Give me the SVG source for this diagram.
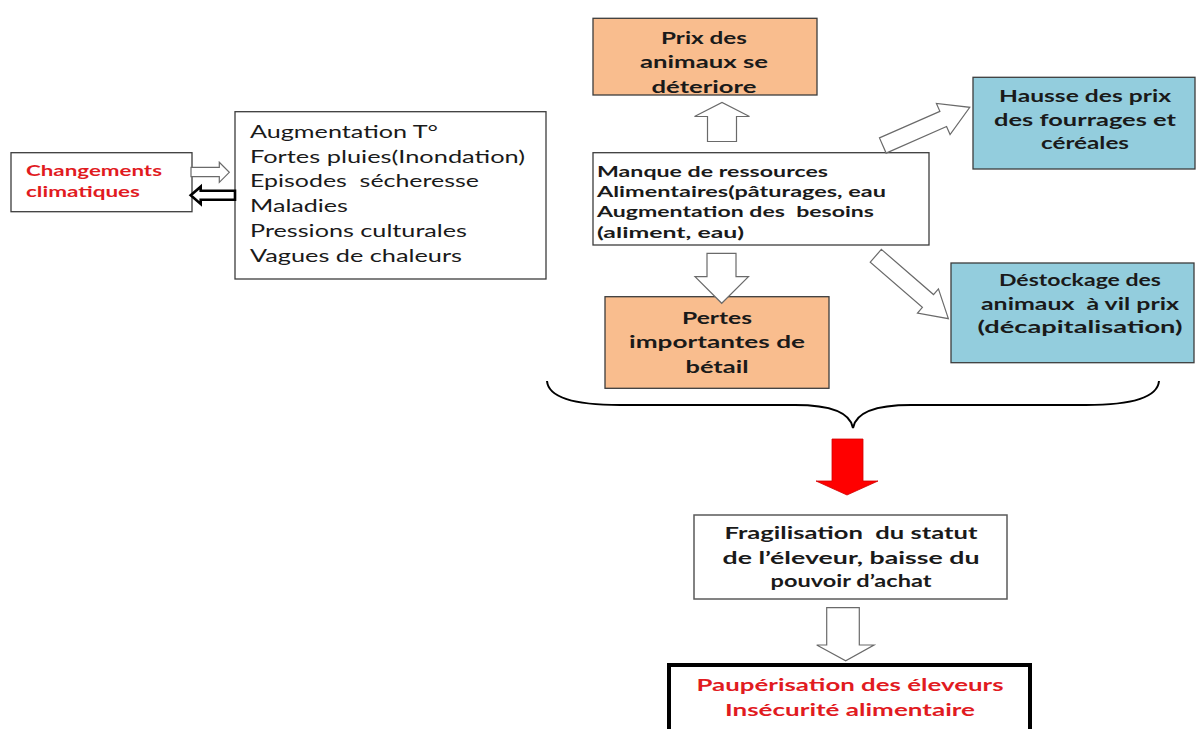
<svg xmlns="http://www.w3.org/2000/svg" width="1198" height="729" viewBox="0 0 1198 729">
<style>
.box{fill:#ffffff;stroke:#3c3c3c;stroke-width:1.3}
.orange{fill:#F9BD8E;stroke:#3c3c3c;stroke-width:1.3}
.blue{fill:#93CDDD;stroke:#3c3c3c;stroke-width:1.3}
.t{font-family:Lato,"Liberation Sans",sans-serif;fill:#1a1a1a}
.b{font-weight:bold}
.red{fill:#E11B1F}
.c{text-anchor:middle}
.arr{fill:#ffffff;stroke:#6a6a6a;stroke-width:1.2}
</style>
<rect width="1198" height="729" fill="#ffffff"/>

<g id="changements">
<rect class="box" x="11" y="152.7" width="181" height="59"/>
<text class="t b red" x="26" y="176" font-size="16" textLength="136" lengthAdjust="spacingAndGlyphs">Changements</text>
<text class="t b red" x="26" y="196.7" font-size="16" textLength="114" lengthAdjust="spacingAndGlyphs">climatiques</text>
</g>

<g id="facteurs">
<rect class="box" x="235" y="111.7" width="311" height="167.3"/>
<text class="t" x="250" y="137.7" font-size="18" textLength="188" lengthAdjust="spacingAndGlyphs">Augmentation T°</text>
<text class="t" x="250" y="162.7" font-size="18" textLength="275" lengthAdjust="spacingAndGlyphs">Fortes pluies(Inondation)</text>
<text class="t" x="250" y="187.3" font-size="18" textLength="229" lengthAdjust="spacingAndGlyphs" xml:space="preserve">Episodes  sécheresse</text>
<text class="t" x="250" y="211.7" font-size="18" textLength="98" lengthAdjust="spacingAndGlyphs">Maladies</text>
<text class="t" x="250" y="236.7" font-size="18" textLength="217" lengthAdjust="spacingAndGlyphs">Pressions culturales</text>
<text class="t" x="250" y="261.7" font-size="18" textLength="212" lengthAdjust="spacingAndGlyphs">Vagues de chaleurs</text>
</g>

<g id="prix">
<rect class="orange" x="593" y="18.3" width="224" height="76.7"/>
<text class="t b c" x="704" y="44.3" font-size="17.7" textLength="86" lengthAdjust="spacingAndGlyphs">Prix des</text>
<text class="t b c" x="704" y="68.3" font-size="17.7" textLength="128" lengthAdjust="spacingAndGlyphs">animaux se</text>
<text class="t b c" x="704" y="92.7" font-size="17.7" textLength="105" lengthAdjust="spacingAndGlyphs">déteriore</text>
</g>

<g id="hausse">
<rect class="blue" x="973" y="77.3" width="222" height="91.7"/>
<text class="t b c" x="1085" y="102" font-size="17.7" textLength="172" lengthAdjust="spacingAndGlyphs">Hausse des prix</text>
<text class="t b c" x="1085" y="125.5" font-size="17.7" textLength="182" lengthAdjust="spacingAndGlyphs">des fourrages et</text>
<text class="t b c" x="1085" y="148.5" font-size="17.7" textLength="88" lengthAdjust="spacingAndGlyphs">céréales</text>
</g>

<g id="manque">
<rect class="box" x="593" y="152.7" width="336" height="92.3"/>
<text class="t b" x="597" y="176.5" font-size="16" textLength="231" lengthAdjust="spacingAndGlyphs">Manque de ressources</text>
<text class="t b" x="597" y="197" font-size="16" textLength="289" lengthAdjust="spacingAndGlyphs">Alimentaires(pâturages, eau</text>
<text class="t b" x="597" y="217" font-size="16" textLength="277" lengthAdjust="spacingAndGlyphs" xml:space="preserve">Augmentation des  besoins</text>
<text class="t b" x="597" y="237.5" font-size="16" textLength="147" lengthAdjust="spacingAndGlyphs">(aliment, eau)</text>
</g>

<g id="pertes">
<rect class="orange" x="605" y="296.7" width="224" height="91.6"/>
<text class="t b c" x="717" y="324" font-size="17.7" textLength="70" lengthAdjust="spacingAndGlyphs">Pertes</text>
<text class="t b c" x="717" y="348.3" font-size="17.7" textLength="176" lengthAdjust="spacingAndGlyphs">importantes de</text>
<text class="t b c" x="717" y="373.3" font-size="17.7" textLength="63" lengthAdjust="spacingAndGlyphs">bétail</text>
</g>

<g id="destockage">
<rect class="blue" x="951" y="263" width="243" height="99.7"/>
<text class="t b c" x="1080" y="286" font-size="17.7" textLength="162" lengthAdjust="spacingAndGlyphs">Déstockage des</text>
<text class="t b c" x="1080" y="310" font-size="17.7" textLength="198" lengthAdjust="spacingAndGlyphs" xml:space="preserve">animaux  à vil prix</text>
<text class="t b c" x="1080" y="333.3" font-size="17.7" textLength="205" lengthAdjust="spacingAndGlyphs">(décapitalisation)</text>
</g>

<g id="fragilisation">
<rect x="694" y="515" width="313" height="84" fill="#ffffff" stroke="#5a5a5a" stroke-width="1.5"/>
<text class="t b c" x="851" y="539.3" font-size="17.7" textLength="253" lengthAdjust="spacingAndGlyphs" xml:space="preserve">Fragilisation  du statut</text>
<text class="t b c" x="851" y="564" font-size="17.7" textLength="257" lengthAdjust="spacingAndGlyphs">de l’éleveur, baisse du</text>
<text class="t b c" x="851" y="587.3" font-size="17.7" textLength="161" lengthAdjust="spacingAndGlyphs">pouvoir d’achat</text>
</g>

<g id="pauperisation">
<rect x="669" y="665" width="361" height="80" fill="#ffffff" stroke="#000000" stroke-width="4"/>
<text class="t b c red" x="850" y="690.7" font-size="17.5" textLength="307" lengthAdjust="spacingAndGlyphs">Paupérisation des éleveurs</text>
<text class="t b c red" x="850" y="716" font-size="17.5" textLength="250" lengthAdjust="spacingAndGlyphs">Insécurité alimentaire</text>
</g>

<g id="connectors">
<polygon class="arr" points="191,167.3 219.3,167.3 219.3,162.3 229.3,172.3 219.3,182.3 219.3,176.7 191,176.7"/>
<polygon points="235,190.7 200.7,190.7 200.7,186.7 190.7,195.3 200.7,204 200.7,199.7 235,199.7" fill="#ffffff" stroke="#000000" stroke-width="2.6"/>
<polygon class="arr" points="707.5,141.5 707.5,116.5 694.5,116.5 722,102.5 749.5,116.5 736.5,116.5 736.5,141.5"/>
<polygon class="arr" points="707,253.3 736,253.3 736,276.7 748.5,276.7 721.7,303.3 695,276.7 707,276.7"/>
<polygon class="arr" transform="translate(882.8,145.5) rotate(-23.7)" points="0,-8.3 66,-8.3 66,-17 95,0 66,17 66,8.3 0,8.3"/>
<polygon class="arr" transform="translate(875.8,255.8) rotate(40.9)" points="0,-8.5 69,-8.5 69,-16 96,0 69,16 69,8.5 0,8.5"/>
<path d="M547,381 Q549,405 620,405 L795,405 Q849,405 853,428 Q857,405 911,405 L1086,405 Q1157,405 1159,381" fill="none" stroke="#000000" stroke-width="2"/>
<polygon points="832,439 863,439 863,481 878,481 847,495 816,481 832,481" fill="#FF0000" stroke="#D00000" stroke-width="0.8"/>
<polygon class="arr" points="826.7,607.7 859.3,607.7 859.3,645 874,645 845.7,660.7 816.7,645 826.7,645"/>
</g>
</svg>
